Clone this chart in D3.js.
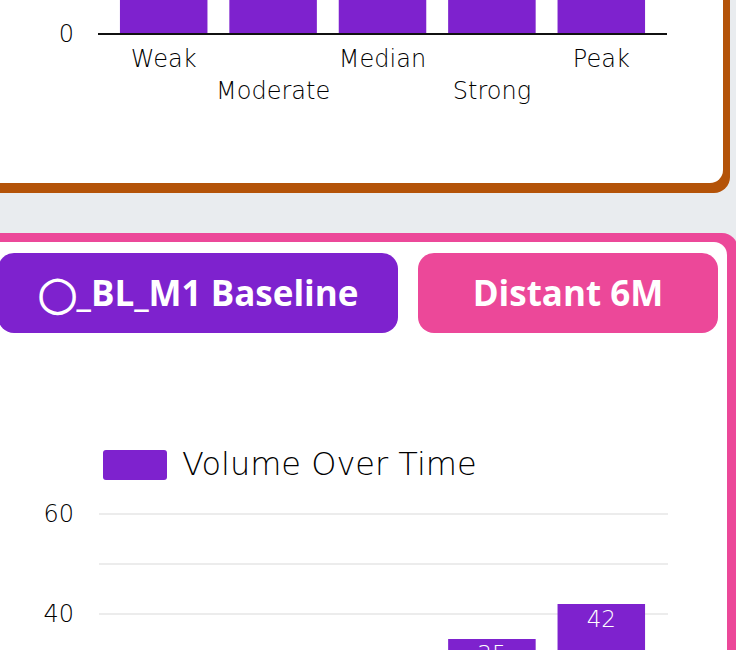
<!DOCTYPE html>
<html>
<head>
<meta charset="utf-8">
<script src="https://cdn.jsdelivr.net/npm/d3@7"></script>
<style>
  html, body { margin: 0; padding: 0; background: #e9ecef; overflow: hidden; }
  svg { display: block; }
  .tick text { font-family: "DejaVu Sans", sans-serif; font-weight: 200; fill: #000; }
</style>
</head>
<body>
<svg width="736" height="650"></svg>
<script>
// data
var categories = ["Weak", "Moderate", "Median", "Strong", "Peak"];
var topValues = [28, 32, 30, 36, 40];      // bars of upper card (mostly scrolled out of view)
var volumeValues = [18, 24, 30, 35, 42];   // "Volume Over Time"
var yTicks = [0, 20, 40, 60];
var gridTicks = [0, 10, 20, 30, 40, 50, 60];
var buttonLabels = ["\u25EF_BL_M1 Baseline", "Distant 6M"];
var legendLabel = "Volume Over Time";

var purple = "#7e22ce", pink = "#ec4899", orange = "#b45309";
var lightFont = "'DejaVu Sans', sans-serif";

var svg = d3.select("svg");

// ---- cards ----
// upper card (orange border, only its bottom is visible)
svg.append("rect").attr("x", -30).attr("y", -300).attr("width", 760).attr("height", 493)
  .attr("rx", 16).attr("fill", orange);
svg.append("rect").attr("x", -30).attr("y", -300).attr("width", 753).attr("height", 483)
  .attr("rx", 13).attr("fill", "#fff");

// lower card (pink border)
svg.append("rect").attr("x", -30).attr("y", 233).attr("width", 768).attr("height", 700)
  .attr("rx", 16).attr("fill", pink);
svg.append("rect").attr("x", -30).attr("y", 242).attr("width", 757).attr("height", 700)
  .attr("rx", 13).attr("fill", "#fff");

// ---- buttons ----
var btns = [{x: -2, w: 400, c: purple}, {x: 418, w: 300, c: pink}];
btns.forEach(function(b, i) {
  svg.append("rect").attr("x", b.x).attr("y", 253).attr("width", b.w).attr("height", 80)
    .attr("rx", 16).attr("fill", b.c);
  svg.append("text").attr("x", b.x + b.w / 2).attr("y", 294)
    .attr("dy", "0.35em").attr("text-anchor", "middle")
    .style("font-family", "'Open Sans', sans-serif").style("font-weight", 700)
    .style("font-size", "35px").attr("fill", "#fff")
    .text(buttonLabels[i]);
});

// ---- shared x scale ----
var x = d3.scaleBand().domain(categories).range([109, 656]).paddingInner(0.2).paddingOuter(0.1);

// ---- upper chart ----
var yTop = d3.scaleLinear().domain([0, 60]).range([34, -266]);
var gTop = svg.append("g");
gTop.selectAll("rect.bar").data(categories).enter().append("rect")
  .attr("class", "bar")
  .attr("x", function(d) { return x(d); })
  .attr("width", x.bandwidth())
  .attr("y", function(d, i) { return yTop(topValues[i]); })
  .attr("height", function(d, i) { return yTop(0) - yTop(topValues[i]); })
  .attr("fill", purple);
gTop.append("line").attr("x1", 98).attr("x2", 667).attr("y1", yTop(0)).attr("y2", yTop(0))
  .attr("stroke", "#111").attr("stroke-width", 2);
// only ticks still inside the scrolled view
var yAxTop = gTop.append("g").attr("transform", "translate(98,0)")
  .call(d3.axisLeft(yTop).tickValues(yTicks.filter(function(t) { return yTop(t) > 10; }))
    .tickSize(0).tickPadding(24));
yAxTop.select(".domain").remove();
yAxTop.selectAll("text").style("font-size", "24px");
var xAxTop = gTop.append("g").attr("transform", "translate(0," + yTop(0) + ")")
  .call(d3.axisBottom(x).tickSize(0));
xAxTop.select(".domain").remove();
xAxTop.selectAll("text").style("font-size", "24px")
  .attr("y", function(d, i) { return i % 2 ? 65 : 33; })
  .attr("dy", "0");

// ---- lower chart ----
// legend
svg.append("rect").attr("x", 103).attr("y", 450).attr("width", 64).attr("height", 30)
  .attr("rx", 3).attr("fill", purple);
svg.append("text").attr("x", 182).attr("y", 464).attr("dy", "0.35em")
  .style("font-family", lightFont).style("font-weight", 200)
  .style("font-size", "32px").attr("fill", "#000").text(legendLabel);

var y = d3.scaleLinear().domain([0, 60]).range([814, 514]);
var g = svg.append("g");
g.append("g").selectAll("line").data(gridTicks).enter().append("line")
  .attr("x1", 99).attr("x2", 668)
  .attr("y1", function(d) { return y(d); }).attr("y2", function(d) { return y(d); })
  .attr("stroke", "#e6e6e6").attr("stroke-width", 1.5);
var yAx = g.append("g").attr("transform", "translate(98,0)")
  .call(d3.axisLeft(y).tickValues(yTicks.filter(function(t) { return y(t) < 640; }))
    .tickSize(0).tickPadding(24));
yAx.select(".domain").remove();
yAx.selectAll("text").style("font-size", "24px");

g.selectAll("rect.bar").data(categories).enter().append("rect")
  .attr("class", "bar")
  .attr("x", function(d) { return x(d); })
  .attr("width", x.bandwidth())
  .attr("y", function(d, i) { return y(volumeValues[i]); })
  .attr("height", function(d, i) { return y(0) - y(volumeValues[i]); })
  .attr("fill", purple);
// value labels, only where the label starts inside the view
var shown = categories.filter(function(d, i) { return y(volumeValues[i]) + 4 < 650; });
g.selectAll("text.val").data(shown).enter().append("text")
  .attr("class", "val")
  .attr("x", function(d) { return x(d) + x.bandwidth() / 2; })
  .attr("y", function(d) { return y(volumeValues[categories.indexOf(d)]) + 15; })
  .attr("dy", "0.35em").attr("text-anchor", "middle")
  .style("font-family", lightFont).style("font-weight", 200)
  .style("font-size", "23px").attr("fill", "#fff")
  .text(function(d) { return volumeValues[categories.indexOf(d)]; });
g.append("line").attr("x1", 98).attr("x2", 667).attr("y1", y(0)).attr("y2", y(0))
  .attr("stroke", "#111").attr("stroke-width", 2);
</script>
</body>
</html>
